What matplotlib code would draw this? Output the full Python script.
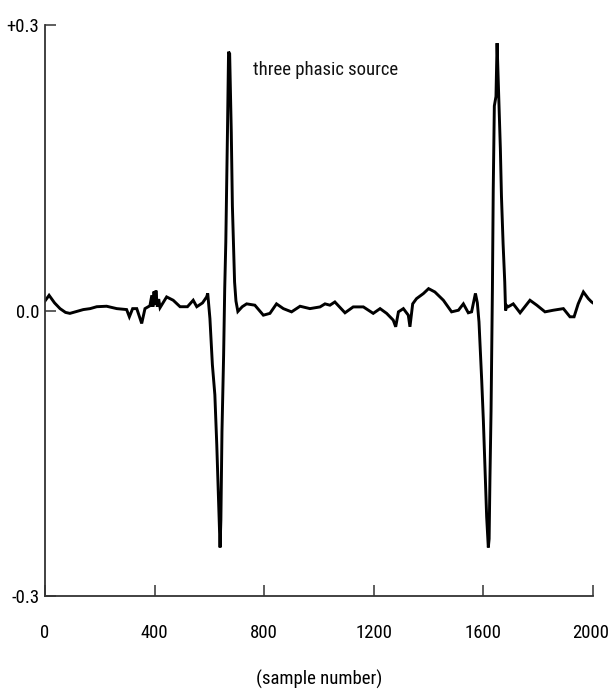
import numpy as np
import matplotlib
matplotlib.use('Agg')
import matplotlib.pyplot as plt
from matplotlib import font_manager as fm
from matplotlib.transforms import ScaledTranslation

# values (sample number, amplitude)
samples = [0, 15, 35, 55, 75, 91, 116, 140, 165, 189, 225, 262, 298, 308, 320, 335,
           353, 365, 383, 390, 394, 398, 402, 405, 410, 415, 420, 444, 468, 493, 520,
           541, 554, 575, 590, 594,
           602, 611, 620, 627, 633, 639, 642, 646, 652, 656, 660, 666, 670, 674, 680,
           684, 692, 697, 704,
           720, 736, 766, 797, 821, 845, 870, 900, 931, 967, 1004, 1022, 1040, 1058,
           1095, 1125, 1162, 1198, 1223, 1247, 1271, 1280, 1290, 1308, 1326, 1332,
           1342, 1356, 1381, 1400, 1423, 1454, 1484, 1509, 1527, 1545, 1557, 1571,
           1578,
           1584, 1594, 1600, 1606, 1612, 1618, 1621, 1624, 1628, 1633, 1636, 1640,
           1646, 1650, 1656, 1662, 1666, 1672, 1678, 1681, 1686, 1691,
           1709, 1734, 1770, 1795, 1825, 1855, 1892, 1916, 1931, 1946, 1965, 1983,
           1995, 2000]
amplitude = [0.010, 0.016, 0.008, 0.002, -0.002, -0.003, -0.001, 0.001, 0.002, 0.004,
             0.0045, 0.002, 0.001, -0.0066, 0.002, 0.002, -0.0136, 0.002, 0.005, 0.016,
             0.004, 0.020, 0.006, 0.021, 0.004, 0.012, 0.003, 0.0143, 0.0108, 0.004,
             0.004, 0.0108, 0.004, 0.008, 0.0143, 0.018,
             -0.0084, -0.057, -0.0885, -0.141, -0.196, -0.249, -0.22, -0.127, -0.047,
             0.023, 0.072, 0.187, 0.272, 0.27, 0.187, 0.11, 0.03, 0.01, -0.001,
             0.004, 0.007, 0.0056, -0.0049, -0.003, 0.007, 0.002, -0.0014, 0.0045,
             0.002, 0.0038, 0.007, 0.0056, 0.009, -0.0024, 0.0038, 0.0038, -0.003,
             0.002, -0.003, -0.0101, -0.0171, -0.0014, 0.002, -0.0049, -0.0171, 0.007,
             0.0125, 0.0178, 0.023, 0.0195, 0.0108, -0.0014, 0.0003, 0.007, -0.0024,
             -0.0014, 0.018, 0.008,
             -0.012, -0.074, -0.116, -0.168, -0.217, -0.249, -0.24, -0.176, -0.106,
             0.023, 0.127, 0.215, 0.225, 0.281, 0.225, 0.17, 0.12, 0.07, 0.03, 0.0,
             0.005, 0.004,
             0.007, -0.0024, 0.0108, 0.0056, -0.0014, 0.0003, 0.002, -0.0066, -0.0066,
             0.007, 0.0195, 0.0125, 0.009, 0.008]

xticks = [0, 400, 800, 1200, 1600, 2000]
yticks = [-0.3, 0.0, 0.3]
ytick_labels = ['-0.3', '0.0', '+0.3']

# look for a narrow / condensed face, the labels in the scan are very narrow
wanted = ['LiberationSansNarrow-Regular', 'ArialNarrow', 'RobotoCondensed-Regular',
          'DejaVuSansCondensed.ttf', 'OpenSansCondensed', 'NotoSans-Condensed']
font_file = None
for w in wanted:
    for f in fm.fontManager.ttflist:
        if w.lower() in f.fname.replace(' ', '').lower():
            font_file = f.fname
            break
    if font_file:
        break

if font_file:
    fp = fm.FontProperties(fname=font_file)
    fsize = 13.5
else:
    fp = fm.FontProperties(family='DejaVu Sans')
    fsize = 11.5

fig = plt.figure(figsize=(6.11, 6.96), dpi=100)
ax = fig.add_axes([0.0736, 0.1437, 0.8969, 0.8203])

ax.plot(samples, amplitude, color='black', lw=2.1, solid_joinstyle='miter')

ax.set_xlim(0, 2000)
ax.set_ylim(-0.3, 0.3)
ax.set_xticks(xticks)
ax.set_xticklabels([str(t) for t in xticks], fontproperties=fp, fontsize=fsize)
ax.set_yticks(yticks)
ax.set_yticklabels(ytick_labels, fontproperties=fp, fontsize=fsize)

for s in ['top', 'right']:
    ax.spines[s].set_visible(False)
for s in ['left', 'bottom']:
    ax.spines[s].set_color('#333333')
    ax.spines[s].set_linewidth(1.3)

ax.tick_params(direction='in', length=8, width=1.1, color='#333333', pad=20)
ax.tick_params(axis='y', pad=4)

# last x label sits a little left of its tick, as in the scan
last = ax.get_xticklabels()[-1]
last.set_transform(last.get_transform() + ScaledTranslation(-2 / 72, 0, fig.dpi_scale_trans))

ax.text(1025, 0.253, 'three phasic source', fontproperties=fp, fontsize=fsize,
        ha='center', va='center', color='#111111')
ax.set_xlabel('(sample number)', fontproperties=fp, fontsize=fsize, labelpad=20)

fig.savefig('out.png', dpi=100)
